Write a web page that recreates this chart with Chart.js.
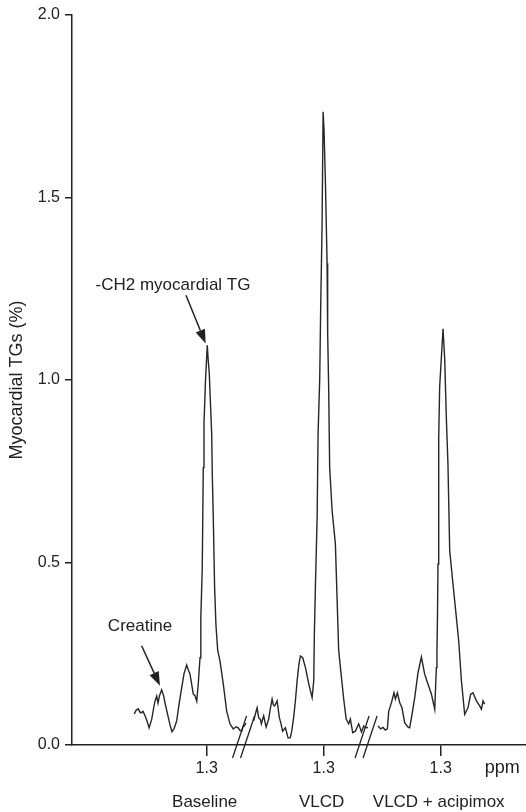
<!DOCTYPE html>
<html>
<head>
<meta charset="utf-8">
<title>Myocardial TGs</title>
<script src="https://cdn.jsdelivr.net/npm/chart.js@4/dist/chart.umd.min.js"></script>
<style>
    html, body { margin: 0; padding: 0; background: #fff; }
    #wrap { width: 526px; height: 812px; position: relative; }
</style>
</head>
<body>
<div id="wrap"><canvas id="spectrumChart"></canvas></div>
<script>
// positions of the three 1.3 ppm peaks on the shared (broken) axis
const segmentCentres = [0, 1, 2];
const tickLabels = ["1.3", "1.3", "1.3"];
const groupNames = ["Baseline", "VLCD", "VLCD + acipimox"];
const breakPositions = [0.315, 1.362];

const yTicks = [0, 0.5, 1, 1.5, 2];

// offsets from each segment's 1.3 ppm position, and signal height (%)
const baselineShift = [-0.619, -0.604, -0.585, -0.570, -0.561, -0.544, -0.527, -0.509, -0.492, -0.470,
    -0.454, -0.442, -0.427, -0.416, -0.403, -0.385, -0.368, -0.356, -0.331, -0.313,
    -0.297, -0.279, -0.256, -0.237, -0.214, -0.194, -0.171, -0.156, -0.143, -0.130,
    -0.115, -0.100, -0.085, -0.072, -0.057, -0.051, -0.049, -0.038, -0.029, -0.023,
    -0.010, 0.005, 0.014, 0.022, 0.043, 0.048, 0.056, 0.068, 0.079, 0.094,
    0.114, 0.142, 0.171, 0.199, 0.227, 0.250, 0.270, 0.284, 0.299, 0.310, 0.321, 0.336];
const baselineTG = [0.085, 0.095, 0.099, 0.090, 0.088, 0.092, 0.080, 0.065, 0.047, 0.070,
    0.100, 0.120, 0.134, 0.115, 0.135, 0.151, 0.135, 0.115, 0.080, 0.055,
    0.036, 0.045, 0.066, 0.110, 0.156, 0.195, 0.219, 0.205, 0.195, 0.170,
    0.140, 0.135, 0.120, 0.167, 0.239, 0.260, 0.350, 0.480, 0.760, 0.880,
    1.000, 1.095, 1.050, 1.020, 0.850, 0.740, 0.630, 0.430, 0.330, 0.260,
    0.230, 0.167, 0.093, 0.058, 0.044, 0.050, 0.047, 0.040, 0.038, 0.050, 0.052, 0.060];

const vlcdShift = [-0.598, -0.584, -0.569, -0.556, -0.541, -0.533, -0.513, -0.492, -0.470, -0.456,
    -0.441, -0.430, -0.419, -0.398, -0.379, -0.366, -0.351, -0.327, -0.304, -0.285,
    -0.272, -0.257, -0.242, -0.227, -0.212, -0.199, -0.179, -0.156, -0.127, -0.099,
    -0.085, -0.080, -0.071, -0.056, -0.048, -0.034, -0.026, -0.014, -0.005, 0.003,
    0.015, 0.029, 0.034, 0.043, 0.051, 0.072, 0.100, 0.115, 0.128, 0.143,
    0.171, 0.192, 0.214, 0.228, 0.248, 0.271, 0.299, 0.323, 0.342, 0.362, 0.379];
const vlcdTG = [0.066, 0.085, 0.102, 0.075, 0.070, 0.058, 0.080, 0.049, 0.071, 0.100,
    0.126, 0.110, 0.107, 0.121, 0.075, 0.060, 0.038, 0.047, 0.019, 0.020,
    0.040, 0.075, 0.120, 0.176, 0.220, 0.244, 0.239, 0.212, 0.167, 0.130,
    0.176, 0.300, 0.430, 0.624, 0.853, 1.003, 1.190, 1.420, 1.735, 1.684,
    1.539, 1.320, 1.127, 0.971, 0.760, 0.642, 0.551, 0.395, 0.260, 0.212,
    0.126, 0.071, 0.058, 0.071, 0.034, 0.038, 0.058, 0.036, 0.052, 0.047, 0.048];

const acipimoxShift = [-0.536, -0.513, -0.493, -0.473, -0.456, -0.444, -0.421, -0.399, -0.387, -0.370,
    -0.350, -0.331, -0.308, -0.279, -0.265, -0.245, -0.222, -0.194, -0.165, -0.137,
    -0.109, -0.079, -0.051, -0.037, -0.032, -0.028, -0.023, -0.017, -0.009, 0.006,
    0.020, 0.034, 0.049, 0.062, 0.077, 0.105, 0.134, 0.154, 0.177, 0.205,
    0.233, 0.256, 0.276, 0.305, 0.333, 0.348, 0.362, 0.376];
const acipimoxTG = [0.052, 0.044, 0.048, 0.041, 0.044, 0.093, 0.116, 0.143, 0.126, 0.143,
    0.116, 0.102, 0.061, 0.049, 0.047, 0.084, 0.130, 0.198, 0.241, 0.194,
    0.167, 0.139, 0.098, 0.212, 0.258, 0.340, 0.496, 0.843, 0.980, 1.063,
    1.140, 1.059, 0.889, 0.770, 0.532, 0.441, 0.349, 0.285, 0.176, 0.084,
    0.102, 0.139, 0.143, 0.121, 0.107, 0.098, 0.121, 0.112];

// annotation text and arrows in axis units
const annotations = [
    { text: "-CH2 myocardial TG", at: [-0.288, 1.259], from: [-0.177, 1.232], to: [-0.009, 1.100] },
    { text: "Creatine", at: [-0.570, 0.326], from: [-0.556, 0.272], to: [-0.399, 0.162] }
];

const INK = "#222";
const FONT = "'Liberation Sans', Arial, sans-serif";

function toPoints(centre, shifts, values) {
    return shifts.map((s, i) => ({ x: centre + s, y: values[i] }));
}

const segments = [
    toPoints(segmentCentres[0], baselineShift, baselineTG),
    toPoints(segmentCentres[1], vlcdShift, vlcdTG),
    toPoints(segmentCentres[2], acipimoxShift, acipimoxTG)
];

function arrow(ctx, x1, y1, x2, y2) {
    const ang = Math.atan2(y2 - y1, x2 - x1);
    const head = 14, half = 5;
    const bx = x2 - head * Math.cos(ang), by = y2 - head * Math.sin(ang);
    ctx.beginPath();
    ctx.moveTo(x1, y1);
    ctx.lineTo(bx, by);
    ctx.stroke();
    ctx.beginPath();
    ctx.moveTo(x2, y2);
    ctx.lineTo(bx + half * Math.sin(ang), by - half * Math.cos(ang));
    ctx.lineTo(bx - half * Math.sin(ang), by + half * Math.cos(ang));
    ctx.closePath();
    ctx.fill();
}

const extras = {
    id: "extras",
    afterDraw(chart) {
        const { ctx, scales: { x, y }, chartArea } = chart;
        ctx.save();
        ctx.strokeStyle = INK;
        ctx.fillStyle = INK;
        ctx.lineWidth = 1.3;

        // axis break marks
        const base = chartArea.bottom;
        breakPositions.forEach(b => {
            const px = x.getPixelForValue(b);
            [-4, 4].forEach(d => {
                ctx.beginPath();
                ctx.moveTo(px + d - 7, base + 13);
                ctx.lineTo(px + d + 7, base - 29);
                ctx.stroke();
            });
        });

        // annotations
        ctx.font = "17px " + FONT;
        ctx.textAlign = "center";
        ctx.textBaseline = "middle";
        annotations.forEach(a => {
            ctx.fillText(a.text, x.getPixelForValue(a.at[0]), y.getPixelForValue(a.at[1]));
            ctx.lineWidth = 1.5;
            arrow(ctx, x.getPixelForValue(a.from[0]), y.getPixelForValue(a.from[1]),
                x.getPixelForValue(a.to[0]), y.getPixelForValue(a.to[1]));
        });

        // group names under the ticks
        ctx.font = "17px " + FONT;
        segmentCentres.forEach((c, i) => {
            ctx.fillText(groupNames[i], x.getPixelForValue(c) - 2, base + 57);
        });

        // unit label
        ctx.font = "18px " + FONT;
        ctx.textAlign = "left";
        ctx.fillText("ppm", x.getPixelForValue(segmentCentres[2]) + 44, base + 23);
        ctx.restore();
    }
};

new Chart(document.getElementById("spectrumChart"), {
    type: "scatter",
    data: {
        datasets: segments.map((pts, i) => ({
            label: groupNames[i],
            data: pts,
            showLine: true,
            borderColor: "#262626",
            borderWidth: 1.4,
            pointRadius: 0,
            tension: 0
        }))
    },
    options: {
        responsive: true,
        maintainAspectRatio: false,
        animation: false,
        layout: { padding: { top: 15, right: 0, left: 0, bottom: 0 } },
        plugins: { legend: { display: false }, tooltip: { enabled: false } },
        scales: {
            x: {
                type: "linear",
                min: -1.151,
                max: 2.729,
                afterBuildTicks: axis => { axis.ticks = segmentCentres.map(v => ({ value: v })); },
                afterFit: axis => { axis.height = 67; },
                ticks: {
                    color: INK,
                    font: { family: FONT, size: 16 },
                    padding: 3,
                    maxRotation: 0,
                    callback: (v, i) => tickLabels[i]
                },
                grid: { drawOnChartArea: false, drawTicks: true, tickLength: 11, color: INK, lineWidth: 1.5 },
                border: { display: true, color: INK, width: 1.5 }
            },
            y: {
                min: 0,
                max: 2,
                afterBuildTicks: axis => { axis.ticks = yTicks.map(v => ({ value: v })); },
                afterFit: axis => { axis.width = 72; },
                ticks: {
                    color: INK,
                    font: { family: FONT, size: 16 },
                    padding: 5,
                    callback: v => v.toFixed(1)
                },
                grid: { drawOnChartArea: false, drawTicks: true, tickLength: 7, color: INK, lineWidth: 1.5 },
                border: { display: true, color: INK, width: 1.5 },
                title: {
                    display: true,
                    text: "Myocardial TGs (%)",
                    color: INK,
                    font: { family: FONT, size: 18 },
                    padding: { top: 6, bottom: 0 }
                }
            }
        }
    },
    plugins: [extras]
});
</script>
</body>
</html>
